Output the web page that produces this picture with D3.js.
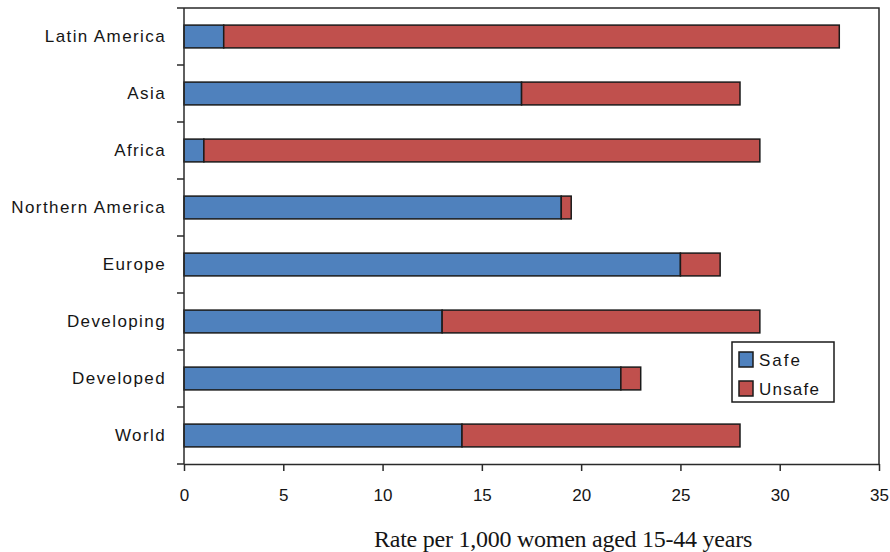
<!DOCTYPE html>
<html>
<head>
<meta charset="utf-8">
<script src="https://cdn.jsdelivr.net/npm/d3@7"></script>
<style>
  html, body { margin: 0; padding: 0; background: #fff; }
  svg { display: block; }
  text { fill: #151515; }
</style>
</head>
<body>
<svg id="chart" width="890" height="552"></svg>
<script>
// Abortion rates by region, split into safe and unsafe procedures
const regions = ["Latin America", "Asia", "Africa", "Northern America", "Europe", "Developing", "Developed", "World"];
const safe    = [2, 17, 1, 19, 25, 13, 22, 14];
const unsafe  = [31, 11, 28, 0.5, 2, 16, 1, 14];
const seriesNames = ["Safe", "Unsafe"];
const seriesColors = ["#4F81BD", "#C0504D"];
const xTicks = [0, 5, 10, 15, 20, 25, 30, 35];
const xTitle = "Rate per 1,000 women aged 15-44 years";

const svg = d3.select("#chart");
const m = { top: 8, right: 11, bottom: 88, left: 184 };
const W = 890, H = 552;
const iw = W - m.left - m.right, ih = H - m.top - m.bottom;

const x = d3.scaleLinear().domain([0, 35]).range([0, iw]);
const y = d3.scaleBand().domain(regions).range([0, ih]).paddingInner(0.6).paddingOuter(0.3);

const g = svg.append("g").attr("transform", `translate(${m.left},${m.top})`);

// plot frame (top and right edges)
g.append("path")
  .attr("d", `M0,0H${iw}V${ih}`)
  .attr("fill", "none").attr("stroke", "#2a2a2a").attr("stroke-width", 1.5);

// stacked bars
const rows = regions.map((r, i) => ({ region: r, Safe: safe[i], Unsafe: unsafe[i] }));
const stacked = d3.stack().keys(seriesNames)(rows);
g.selectAll("g.series").data(stacked).join("g")
  .attr("class", "series")
  .attr("fill", (d, i) => seriesColors[i])
  .selectAll("rect").data(d => d).join("rect")
    .attr("x", d => x(d[0]))
    .attr("y", d => y(d.data.region))
    .attr("width", d => x(d[1]) - x(d[0]))
    .attr("height", y.bandwidth())
    .attr("stroke", "#1a1a1a").attr("stroke-width", 1.5);

// x axis
const xAxis = g.append("g").attr("transform", `translate(0,${ih})`)
  .call(d3.axisBottom(x).tickValues(xTicks).tickSize(7).tickPadding(18).tickSizeOuter(0));
xAxis.select(".domain").attr("stroke", "#2a2a2a").attr("stroke-width", 1.5);
xAxis.selectAll(".tick line").attr("stroke", "#2a2a2a").attr("stroke-width", 1.5);
xAxis.selectAll(".tick text")
  .attr("font-family", "'Liberation Sans', Arial, sans-serif")
  .attr("font-size", 17).attr("fill", "#151515");

// y axis line with ticks on the category boundaries
g.append("line").attr("x1", 0).attr("x2", 0).attr("y1", 0).attr("y2", ih)
  .attr("stroke", "#2a2a2a").attr("stroke-width", 1.5);
const boundaries = d3.range(regions.length + 1).map(i => i * y.step());
g.selectAll("line.ytick").data(boundaries).join("line")
  .attr("class", "ytick")
  .attr("x1", -7).attr("x2", 0)
  .attr("y1", d => d).attr("y2", d => d)
  .attr("stroke", "#2a2a2a").attr("stroke-width", 1.5);

// category labels
g.selectAll("text.cat").data(regions).join("text")
  .attr("class", "cat")
  .attr("x", -18)
  .attr("y", d => y(d) + y.bandwidth() / 2)
  .attr("dy", "0.35em")
  .attr("text-anchor", "end")
  .attr("font-family", "'Liberation Sans', Arial, sans-serif")
  .attr("font-size", 17)
  .attr("letter-spacing", 1.4)
  .text(d => d);

// x axis title
svg.append("text")
  .attr("x", 563).attr("y", 547)
  .attr("text-anchor", "middle")
  .attr("font-family", "'Liberation Serif', 'Times New Roman', serif")
  .attr("font-size", 24)
  .attr("letter-spacing", -0.25)
  .text(xTitle);

// legend
const lg = svg.append("g").attr("transform", "translate(732,342)");
lg.append("rect").attr("width", 102).attr("height", 60)
  .attr("fill", "#fff").attr("stroke", "#1a1a1a").attr("stroke-width", 1.5);
seriesNames.forEach((name, i) => {
  const row = lg.append("g").attr("transform", `translate(7,${10 + i * 29})`);
  row.append("rect").attr("width", 14).attr("height", 15)
    .attr("fill", seriesColors[i]).attr("stroke", "#1a1a1a").attr("stroke-width", 1.5);
  row.append("text").attr("x", 20).attr("y", 8).attr("dy", "0.35em")
    .attr("font-family", "'Liberation Sans', Arial, sans-serif")
    .attr("font-size", 17).attr("letter-spacing", i === 0 ? 2 : 1.2)
    .text(name);
});
</script>
</body>
</html>
